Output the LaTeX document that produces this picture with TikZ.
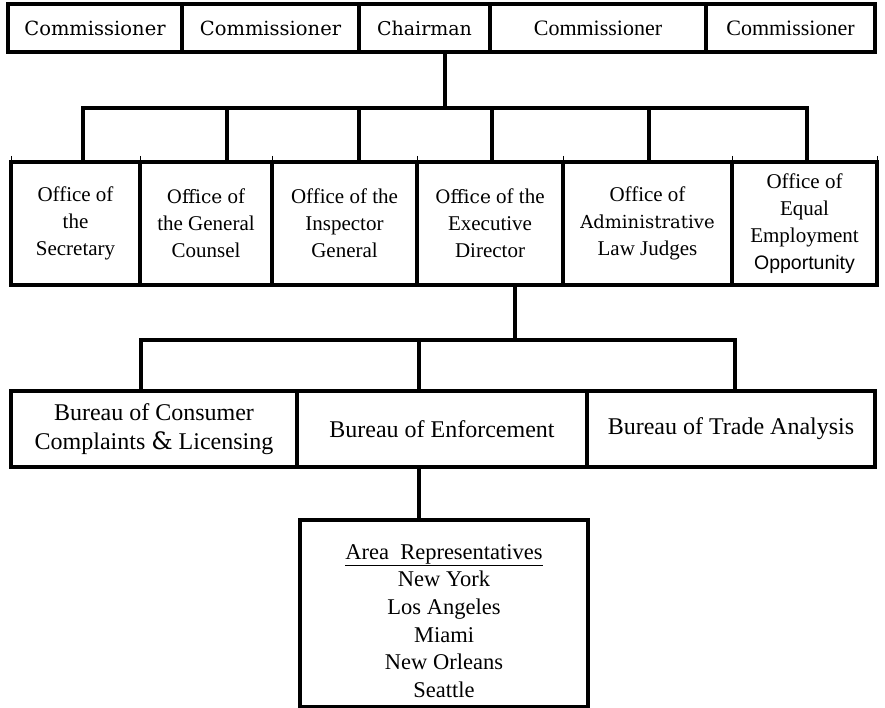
\documentclass[tikz,border=0pt]{standalone}
\usepackage{fontspec}
\setmainfont{Liberation Serif}
\newfontfamily\heavy{DejaVu Serif}
\newfontfamily\arialf{Liberation Sans}
\begin{document}
\begin{tikzpicture}[x=1pt,y=-1pt,
  box/.style={draw,line width=4pt,inner sep=0pt,outer sep=0pt,align=center},
  toprow/.style={box,minimum height=48pt,font=\fontsize{22}{26}\selectfont},
  midrow/.style={box,minimum height=123pt,font=\fontsize{21}{27}\selectfont},
  burrow/.style={box,minimum height=76pt,font=\fontsize{24}{29}\selectfont},
  conn/.style={line width=3.5pt,line cap=rect},
  tickmark/.style={line width=1pt}]
\useasboundingbox (0,0) rectangle (885,708);
\fill[white] (0,0) rectangle (885,708);

% top row
\node[toprow,minimum width=174pt] (c1) at (95,28) {\heavy\fontsize{19.5}{26}\selectfont Commissioner};
\node[toprow,minimum width=177pt] (c2) at (270.5,28) {\heavy\fontsize{19.5}{26}\selectfont Commissioner};
\node[toprow,minimum width=131pt] (ch) at (424.5,28) {\heavy\fontsize{19}{26}\selectfont Chairman};
\node[toprow,minimum width=216pt] (c4) at (598,28) {Commissioner};
\node[toprow,minimum width=169pt] (c5) at (790.5,28) {Commissioner};

% middle row
\foreach \x in {11,140,272,417,563,732,877} \draw[tickmark] (\x,156) -- (\x,162);
\node[midrow,minimum width=129pt] (sec) at (75.5,223.5) {Office of\\the\\Secretary};
\node[midrow,minimum width=132pt] (gc) at (206,223.5) {{\heavy\fontsize{18.5}{27}\selectfont Office} of\\the General\\Counsel};
\node[midrow,minimum width=145pt] (ig) at (344.5,223.5) {Office of the\\Inspector\\General};
\node[midrow,minimum width=146pt] (ed) at (490,223.5) {{\heavy\fontsize{18.5}{27}\selectfont Office} of the\\Executive\\Director};
\node[midrow,minimum width=169pt] (alj) at (647.5,223.5) {Office of\\{\heavy\fontsize{18}{27}\selectfont Administrative}\\Law Judges};
\node[midrow,minimum width=145pt] (eeo) at (804.5,223.5) {Office of\\Equal\\Employment\\{\arialf\fontsize{19.5}{27}\selectfont Opportunity}};

% bureau row
\node[burrow,minimum width=286pt] (bc) at (154,429) {Bureau of Consumer\\Complaints {\heavy\&} Licensing};
\node[burrow,minimum width=290pt] (be) at (442,429) {Bureau of Enforcement};
\node[burrow,minimum width=288pt] (bt) at (731,429) {Bureau of Trade Analysis};

% area representatives
\node[box,minimum width=288pt,minimum height=187pt] (area) at (444,613.5) {};
\node[align=center,inner sep=0pt,font=\fontsize{22.5}{27.6}\selectfont] (areatxt) at (444,621)
  {\underline{Area\ \ Representatives}\\New York\\Los Angeles\\Miami\\New Orleans\\Seattle};

% connectors: chairman to offices
\coordinate (j0) at (445,108);
\coordinate (a1) at (83,108);
\coordinate (a2) at (227,108);
\coordinate (a3) at (359,108);
\coordinate (a4) at (492,108);
\coordinate (a5) at (649,108);
\coordinate (a6) at (807,108);
\draw[conn] (ch.south -| j0) -- (j0);
\draw[conn] (a1) -- (a6);
\draw[conn] (a1) -- (a1 |- sec.north);
\draw[conn] (a2) -- (a2 |- gc.north);
\draw[conn] (a3) -- (a3 |- ig.north);
\draw[conn] (a4) -- (a4 |- ed.north);
\draw[conn] (a5) -- (a5 |- alj.north);
\draw[conn] (a6) -- (a6 |- eeo.north);

% connectors: executive director to bureaus
\coordinate (k0) at (515,340);
\coordinate (k1) at (141,340);
\coordinate (k2) at (419,340);
\coordinate (k3) at (735,340);
\draw[conn] (ed.south -| k0) -- (k0);
\draw[conn] (k1) -- (k3);
\draw[conn] (k1) -- (k1 |- bc.north);
\draw[conn] (k2) -- (k2 |- be.north);
\draw[conn] (k3) -- (k3 |- bt.north);

% enforcement to area representatives
\draw[conn] (be.south -| k2) -- (area.north -| k2);
\end{tikzpicture}
\end{document}
